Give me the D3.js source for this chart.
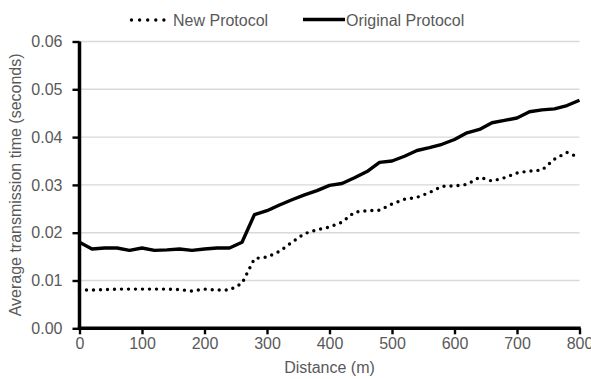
<!DOCTYPE html>
<html>
<head>
<meta charset="utf-8">
<script src="https://cdn.jsdelivr.net/npm/d3@7"></script>
<style>
body { margin: 0; background: #fff; }
text { font-family: "Liberation Sans", Arial, sans-serif; fill: #595959; }
</style>
</head>
<body>
<script>
// data
var distances = [0,20,40,60,80,100,120,140,160,180,200,220,240,260,280,300,320,340,360,380,
                 400,420,440,460,480,500,520,540,560,580,600,620,640,660,680,700,720,740,760,780,800];
var newProtocol = [0.0080,0.0080,0.0081,0.0082,0.0082,0.0082,0.0082,0.0082,0.0081,0.0078,0.0082,0.0080,0.0080,0.0094,
                   0.0146,0.0149,0.0161,0.0180,0.0198,0.0206,0.0212,0.0222,0.0243,0.0246,0.0247,0.0260,0.0270,0.0274,
                   0.0284,0.0297,0.0298,0.0301,0.0316,0.0308,0.0315,0.0325,0.0329,0.0331,0.0354,0.0368,0.0357];
var originalProtocol = [0.0180,0.0166,0.0168,0.0168,0.0163,0.0168,0.0163,0.0164,0.0166,0.0163,0.0166,0.0168,0.0168,0.0180,
                        0.0238,0.0246,0.0258,0.0269,0.0279,0.0288,0.0299,0.0303,0.0315,0.0328,0.0347,0.0350,0.0360,0.0372,
                        0.0378,0.0385,0.0395,0.0409,0.0416,0.0430,0.0435,0.0440,0.0453,0.0457,0.0459,0.0466,0.0477];
var xTicks = [0,100,200,300,400,500,600,700,800];
var yTicks = [0,0.01,0.02,0.03,0.04,0.05,0.06];
var seriesNames = ["New Protocol","Original Protocol"];

var width = 591, height = 379;
var mLeft = 79.5, mRight = 579.5, mTop = 41.5, mBottom = 328.3;
var fontSize = "16px";

var svg = d3.select("body").append("svg")
    .attr("width", width)
    .attr("height", height);

var x = d3.scaleLinear().domain([0,800]).range([mLeft,mRight]);
var y = d3.scaleLinear().domain([0,0.06]).range([mBottom,mTop]);

// gridlines
svg.append("g").selectAll("line").data(yTicks.slice(1)).enter()
    .append("line")
    .attr("x1", mLeft).attr("x2", mRight)
    .attr("y1", function(d){return y(d)}).attr("y2", function(d){return y(d)})
    .attr("stroke", "#d9d9d9").attr("stroke-width", 1.4);

// axes
var yAxis = d3.axisLeft(y).tickValues(yTicks).tickFormat(d3.format(".2f")).tickSize(7).tickPadding(10);
var xAxis = d3.axisBottom(x).tickValues(xTicks).tickFormat(d3.format("d")).tickSize(6).tickPadding(3);

var gy = svg.append("g").attr("transform","translate("+mLeft+",0)").call(yAxis);
var gx = svg.append("g").attr("transform","translate(0,"+mBottom+")").call(xAxis);
[gy,gx].forEach(function(g){
    g.select(".domain").attr("stroke","#000").attr("stroke-width",3.5);
    g.selectAll(".tick line").attr("stroke","#000").attr("stroke-width",2.4);
    g.selectAll(".tick text").style("font-size",fontSize).style("font-family","'Liberation Sans', Arial, sans-serif").attr("fill","#595959");
});
gx.select(".domain").attr("d","M"+(mLeft-1.7)+",0H"+(mRight+1.2));
gy.select(".domain").attr("d","M0,"+mTop+"V"+(mBottom+1.7));

// lines
var line = function(vals){
    return d3.line().x(function(d,i){return x(distances[i])}).y(function(d){return y(d)})(vals);
};
svg.append("path").attr("d", line(originalProtocol))
    .attr("fill","none").attr("stroke","#000").attr("stroke-width",3.4)
    .attr("stroke-linejoin","round");
svg.append("path").attr("d", line(newProtocol))
    .attr("fill","none").attr("stroke","#000").attr("stroke-width",3.4)
    .attr("stroke-linecap","round").attr("stroke-dasharray","0 7");

// axis titles
svg.append("text").attr("x",(mLeft+mRight)/2).attr("y",373)
    .attr("text-anchor","middle").style("font-size",fontSize).text("Distance (m)");
svg.append("text").attr("transform","translate(21,"+((mTop+mBottom)/2)+") rotate(-90)")
    .attr("text-anchor","middle").style("font-size",fontSize).text("Average transmission time (seconds)");

// legend
var lg = svg.append("g");
lg.append("line").attr("x1",131.5).attr("x2",164).attr("y1",20).attr("y2",20)
    .attr("stroke","#000").attr("stroke-width",3.4).attr("stroke-linecap","round").attr("stroke-dasharray","0 8.1");
lg.append("text").attr("x",173).attr("y",25.5).style("font-size",fontSize).text(seriesNames[0]);
lg.append("line").attr("x1",303).attr("x2",345).attr("y1",19.5).attr("y2",19.5)
    .attr("stroke","#000").attr("stroke-width",3.4);
lg.append("text").attr("x",346).attr("y",25.5).style("font-size",fontSize).text(seriesNames[1]);
</script>
</body>
</html>
